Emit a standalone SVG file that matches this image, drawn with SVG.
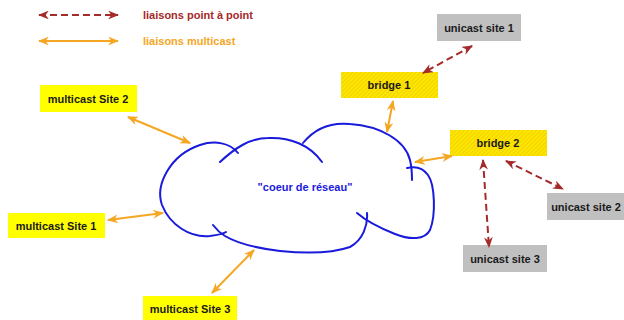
<svg xmlns="http://www.w3.org/2000/svg" width="624" height="320" viewBox="0 0 624 320">
<style>
text{font-family:"Liberation Sans",Arial,sans-serif;font-weight:bold;font-size:11px}
.lbl{text-anchor:middle;fill:#1a1a1a}
.uni{fill:#c0c0c0}
.mc{fill:#ffff00}
.br{fill:url(#hatch)}
.p2p{stroke:#a52a2a;stroke-width:2;stroke-dasharray:7,4;fill:none;marker-start:url(#ha);marker-end:url(#ha)}
.mcl{stroke:#f5a623;stroke-width:2;fill:none;marker-start:url(#oa);marker-end:url(#oa)}
.cloud{stroke:#1a1adc;stroke-width:2;fill:none;stroke-linecap:round}
</style>
<defs>
<pattern id="hatch" patternUnits="userSpaceOnUse" width="3" height="3" patternTransform="rotate(45)">
<rect width="3" height="3" fill="#ffe600"/>
<line x1="0" y1="0" x2="0" y2="3" stroke="#e0c000" stroke-width="1"/>
</pattern>
<marker id="ha" viewBox="0 0 10 8" refX="9" refY="4" markerWidth="5.5" markerHeight="4.4" orient="auto-start-reverse" markerUnits="strokeWidth">
<path d="M0,0 L10,4 L0,8 L3,4 Z" fill="#a52a2a"/>
</marker>
<marker id="oa" viewBox="0 0 10 8" refX="9" refY="4" markerWidth="5.5" markerHeight="4.4" orient="auto-start-reverse" markerUnits="strokeWidth">
<path d="M0,0 L10,4 L0,8 L3,4 Z" fill="#f5a623"/>
</marker>
</defs>

<g id="legend">
<line class="p2p" x1="39" y1="15" x2="118" y2="15"/>
<text x="143" y="19" style="fill:#a52a2a">liaisons point à point</text>
<line class="mcl" x1="39" y1="41" x2="118" y2="41"/>
<text x="143" y="45" style="fill:#f5a623">liaisons multicast</text>
</g>

<g id="cloud">
<path class="cloud" d="M238,153 C230,143 215,140 200,145 C170,155 155,185 162,205 C170,225 190,238 210,236 C218,235 223,234 226,232"/>
<path class="cloud" d="M220,162 C235,148 250,138 268,138 C290,137 310,145 322,162"/>
<path class="cloud" d="M303,143 C315,128 330,122 350,124 C380,126 405,140 410,160 C412,168 412,174 412,180"/>
<path class="cloud" d="M407,168 C415,166 423,168 428,175 C435,185 436,215 430,230 C425,240 410,240 395,234 C380,228 365,220 357,213"/>
<path class="cloud" d="M367,213 C368,225 363,240 350,247 C330,254 300,253 280,251 C255,248 235,242 225,236 C220,233 216,229 213,225"/>
<text x="305" y="191" style="fill:#1a1adc;text-anchor:middle">"coeur de réseau"</text>
</g>

<g id="unicast1"><rect class="uni" x="437" y="14" width="84" height="27"/><text class="lbl" x="479" y="32">unicast site 1</text></g>
<g id="bridge1"><rect class="br" x="341" y="72" width="97" height="26"/><text class="lbl" x="389" y="89">bridge 1</text></g>
<g id="bridge2"><rect class="br" x="450" y="130" width="97" height="26"/><text class="lbl" x="498" y="147">bridge 2</text></g>
<g id="unicast2"><rect class="uni" x="547" y="193" width="77" height="27"/><text class="lbl" x="586" y="211">unicast site 2</text></g>
<g id="unicast3"><rect class="uni" x="463" y="245" width="84" height="27"/><text class="lbl" x="505" y="263">unicast site 3</text></g>
<g id="mcsite2"><rect class="mc" x="40" y="85" width="97" height="27"/><text class="lbl" x="88" y="103">multicast Site 2</text></g>
<g id="mcsite1"><rect class="mc" x="8" y="213" width="97" height="25"/><text class="lbl" x="56" y="230">multicast Site 1</text></g>
<g id="mcsite3"><rect class="mc" x="143" y="296" width="94" height="24"/><text class="lbl" x="190" y="313">multicast Site 3</text></g>

<g id="connectors">
<line class="p2p" x1="472" y1="46" x2="423" y2="73"/>
<line class="p2p" x1="483" y1="160" x2="489" y2="247"/>
<line class="p2p" x1="506" y1="161" x2="563" y2="189"/>
<line class="mcl" x1="393" y1="101" x2="387" y2="132"/>
<line class="mcl" x1="452" y1="156" x2="415" y2="162"/>
<line class="mcl" x1="128" y1="117" x2="190" y2="143"/>
<line class="mcl" x1="108" y1="220" x2="163" y2="213"/>
<line class="mcl" x1="212" y1="293" x2="254" y2="250"/>
</g>
</svg>
